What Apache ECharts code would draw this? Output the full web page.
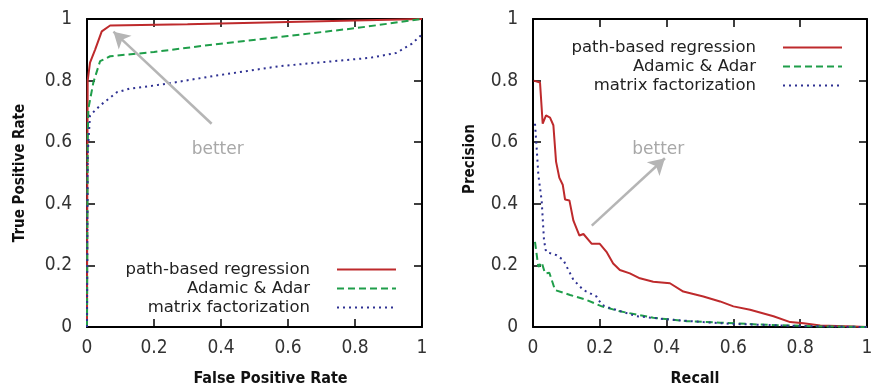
<!DOCTYPE html>
<html><head><meta charset="utf-8">
<script src="https://cdn.jsdelivr.net/npm/echarts@6/dist/echarts.min.js"></script>
<style>html,body{margin:0;padding:0;background:#fff}#c{width:883px;height:392px}</style>
</head><body><div id="c"></div>
<script>
// ROC curves (False Positive Rate, True Positive Rate)
const rocPath = [[0,0],[0.001,0.5],[0.002,0.8],[0.009,0.858],[0.024,0.90],[0.044,0.96],[0.069,0.979],[0.3,0.983],[0.5,0.988],[0.8,0.995],[1,1]];
const rocAdamic = [[0,0],[0.001,0.3],[0.002,0.6],[0.004,0.708],[0.019,0.794],[0.039,0.863],[0.069,0.879],[0.2,0.893],[0.377,0.917],[0.6,0.945],[0.8,0.97],[1,1]];
const rocMatrix = [[0,0],[0.001,0.3],[0.002,0.56],[0.009,0.687],[0.039,0.719],[0.089,0.762],[0.128,0.774],[0.228,0.788],[0.377,0.815],[0.576,0.847],[0.845,0.874],[0.924,0.89],[0.97,0.92],[1,0.95]];
// Precision-Recall curves (Recall, Precision)
const prPath = [[0.002,0.80],[0.021,0.794],[0.029,0.66],[0.039,0.687],[0.051,0.68],[0.061,0.655],[0.069,0.537],[0.079,0.484],[0.089,0.462],[0.096,0.414],[0.109,0.411],[0.121,0.345],[0.139,0.297],[0.151,0.302],[0.176,0.27],[0.20,0.27],[0.22,0.244],[0.24,0.206],[0.26,0.185],[0.29,0.174],[0.32,0.158],[0.36,0.147],[0.41,0.142],[0.45,0.115],[0.51,0.099],[0.56,0.083],[0.60,0.067],[0.65,0.056],[0.72,0.035],[0.77,0.016],[0.81,0.012],[0.86,0.005],[0.96,0.002],[1,0]];
const prAdamic = [[0.006,0.276],[0.016,0.195],[0.026,0.21],[0.036,0.174],[0.049,0.176],[0.066,0.12],[0.111,0.104],[0.16,0.088],[0.206,0.067],[0.26,0.051],[0.36,0.03],[0.46,0.019],[0.56,0.014],[0.7,0.007],[0.86,0.002],[1,0]];
const prMatrix = [[0.006,0.66],[0.011,0.58],[0.016,0.494],[0.026,0.409],[0.033,0.281],[0.039,0.244],[0.071,0.233],[0.091,0.217],[0.121,0.153],[0.151,0.12],[0.19,0.099],[0.206,0.072],[0.23,0.062],[0.31,0.035],[0.41,0.024],[0.51,0.016],[0.6,0.01],[0.8,0.003],[1,0]];
const seriesNames = ['path-based regression','Adamic & Adar','matrix factorization'];
// annotation arrows: [tail, head] in data coords, and label positions
const rocArrow = [[0.372,0.66],[0.079,0.959]];
const rocBetter = [0.39,0.575];
const prArrow = [[0.176,0.329],[0.395,0.548]];
const prBetter = [0.375,0.575];

const colors = ['#be2a2c','#1f9e4a','#2e3192'];
const lineTypes = ['solid',[7,4],[2,4]];
const tickFont = 'DejaVu Sans Condensed';
const fmt = v => String(v);

function xAx(grid, name, pos, show) {
  return {type:'value', gridIndex:grid, min:0, max:1, interval:0.2, position:pos,
    name: show? name : '', nameLocation:'middle', nameGap: 44,
    nameTextStyle:{fontFamily:tickFont, fontWeight:'bold', fontSize:16, color:'#111', padding: grid===0?[0,0,0,32]:[0,0,0,-10]},
    axisLine:{show:true, onZero:false, lineStyle:{color:'#000', width:2}},
    axisTick:{show:true, inside:true, length:8, lineStyle:{color:'#000', width:1.5}},
    axisLabel:{show:show, margin:12, fontFamily:tickFont, fontSize:19, color:'#333', formatter:fmt},
    splitLine:{show:false}};
}
function yAx(grid, name, pos, show, gap, pad) {
  return {type:'value', gridIndex:grid, min:0, max:1, interval:0.2, position:pos,
    name: show? name : '', nameLocation:'middle', nameGap: gap,
    nameTextStyle:{fontFamily:tickFont, fontWeight:'bold', fontSize:15, color:'#111', padding:pad},
    axisLine:{show:true, onZero:false, lineStyle:{color:'#000', width:2}},
    axisTick:{show:true, inside:true, length:8, lineStyle:{color:'#000', width:1.5}},
    axisLabel:{show:show, margin:15, fontFamily:tickFont, fontSize:19, color:'#333', formatter:fmt},
    splitLine:{show:false}};
}
function mk(name, data, i, xi, yi) {
  return {name:name, type:'line', xAxisIndex:xi, yAxisIndex:yi, data:data, symbol:'none', showSymbol:false,
    lineStyle:{color:colors[i], width:2, type:lineTypes[i]}, itemStyle:{color:colors[i]}, z:3};
}
function annot(arrow, better, xi, yi) {
  return {type:'line', xAxisIndex:xi, yAxisIndex:yi, data:[], silent:true,
    markLine:{silent:true, animation:false, symbol:['none','arrow'], symbolSize:[14,16],
      lineStyle:{color:'#b5b5b5', width:2.5, type:'solid'}, label:{show:false},
      data:[[{coord:arrow[0]},{coord:arrow[1]}]]},
    markPoint:{silent:true, animation:false, symbol:'circle', symbolSize:0,
      label:{show:true, formatter:'better', color:'#a8a8a8', fontSize:17, fontFamily:'DejaVu Sans'},
      data:[{coord:better}]}};
}
function legends(right, tops) {
  return seriesNames.map((n,i)=>({data:[n], orient:'vertical', align:'right', right:right, top:tops[i],
    itemWidth:59, itemHeight:14, itemGap:0, padding:0,
    itemStyle:{opacity:0},
    textStyle:{fontFamily:'DejaVu Sans', fontSize:16.5, color:'#222', padding:[0,22,0,0]},
    selectedMode:false}));
}

const chart = echarts.init(document.getElementById('c'), null, {renderer:'canvas'});
chart.setOption({
  animation:false,
  backgroundColor:'#fff',
  grid:[{left:87, right:461, top:19, bottom:61, containLabel:false},
        {left:533, right:16, top:19, bottom:61, containLabel:false}],
  xAxis:[xAx(0,'False Positive Rate','bottom',true), xAx(0,'','top',false),
         xAx(1,'Recall','bottom',true), xAx(1,'','top',false)],
  yAxis:[yAx(0,'True Positive Rate','left',true,59,[0,0,0,0]), yAx(0,'','right',false,0,0),
         yAx(1,'Precision','left',true,55,[0,0,0,28]), yAx(1,'','right',false,0,0)],
  legend: legends(486,[261,280,299]).concat(legends(40,[39,58,77])),
  series:[
    mk(seriesNames[0], rocPath, 0, 0, 0),
    mk(seriesNames[1], rocAdamic, 1, 0, 0),
    mk(seriesNames[2], rocMatrix, 2, 0, 0),
    mk(seriesNames[0], prPath, 0, 2, 2),
    mk(seriesNames[1], prAdamic, 1, 2, 2),
    mk(seriesNames[2], prMatrix, 2, 2, 2),
    annot(rocArrow, rocBetter, 0, 0),
    annot(prArrow, prBetter, 2, 2)
  ]
});
</script></body></html>
